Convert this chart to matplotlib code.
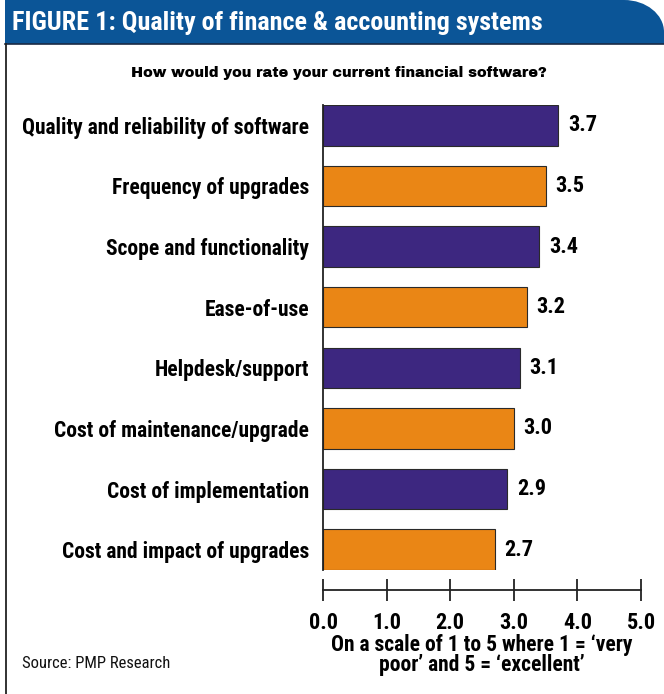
import matplotlib
matplotlib.use("Agg")
import matplotlib.pyplot as plt
from matplotlib.path import Path
from matplotlib.patches import PathPatch
from matplotlib.lines import Line2D
from matplotlib.transforms import Affine2D

# ===== データ =====
categories = [
    "Quality and reliability of software",
    "Frequency of upgrades",
    "Scope and functionality",
    "Ease-of-use",
    "Helpdesk/support",
    "Cost of maintenance/upgrade",
    "Cost of implementation",
    "Cost and impact of upgrades",
]
scores = [3.7, 3.5, 3.4, 3.2, 3.1, 3.0, 2.9, 2.7]
x_ticks = [0.0, 1.0, 2.0, 3.0, 4.0, 5.0]

PURPLE = "#3d2780"
ORANGE = "#ea8615"
BLUE = "#0b5597"
NARROW = ["Roboto Condensed", "DejaVu Sans"]
HEAVY = ["Archivo Black", "DejaVu Sans"]

W, H = 664, 694
fig = plt.figure(figsize=(W / 100, H / 100), dpi=100)
px = Affine2D().scale(1 / W, 1 / H) + fig.transFigure


def fy(y):
    # 上からのピクセル位置 → 図の下からのピクセル位置
    return H - y


# ===== タイトル帯（右上だけ角丸）=====
rx, ry = 40, 32
k = 0.5523
verts = [
    (5, fy(44)), (5, fy(0)), (W - rx, fy(0)),
    (W - rx + k * rx, fy(0)), (W, fy(ry) + k * ry), (W, fy(ry)),
    (W, fy(44)), (5, fy(44)),
]
codes = [Path.MOVETO, Path.LINETO, Path.LINETO,
         Path.CURVE4, Path.CURVE4, Path.CURVE4,
         Path.LINETO, Path.CLOSEPOLY]
fig.patches.append(PathPatch(Path(verts, codes), facecolor=BLUE,
                             edgecolor="none", transform=px))
fig.lines.append(Line2D([5, W], [fy(44), fy(44)], color="#1a2a45",
                        lw=1.2, transform=px))
fig.lines.append(Line2D([6, 6], [fy(44), 0], color="#222222",
                        lw=1.3, transform=px))

fig.text(12 / W, fy(23) / H, "FIGURE 1: Quality of finance & accounting systems",
         color="white", fontsize=18.8, fontweight="bold", family=NARROW,
         va="center", ha="left")
fig.text(339 / W, fy(73) / H, "How would you rate your current financial software?",
         color="black", fontsize=10.4, family=HEAVY,
         va="center", ha="center")
fig.text(22 / W, fy(663) / H, "Source: PMP Research", color="#111111",
         fontsize=12, family=NARROW, va="center", ha="left")

# ===== 棒グラフ =====
ax_l, ax_r = 323 / W, 641 / W
ax_top, ax_bot = fy(105) / H, fy(570) / H
ax = fig.add_axes([ax_l, ax_bot, ax_r - ax_l, ax_top - ax_bot])
bar_h = 0.67
ypos = list(range(len(categories)))
colors = [PURPLE if i % 2 == 0 else ORANGE for i in ypos]
ax.barh(ypos, scores, height=bar_h, color=colors, edgecolor="#2a2a2a", linewidth=0.8)
ax.set_xlim(0, 5)
ax.set_ylim(len(categories) - 1 + bar_h / 2, -bar_h / 2)
for s in ("top", "right", "bottom"):
    ax.spines[s].set_visible(False)
ax.spines["left"].set_color("#222222")
ax.spines["left"].set_linewidth(1.3)
ax.set_xticks([])
ax.set_yticks(ypos)
ax.set_yticklabels(categories, fontsize=15.5, fontweight="bold", family=NARROW)
ax.tick_params(axis="y", length=0, pad=10)
for y, v in zip(ypos, scores):
    ax.text(v + 0.15, y, f"{v:.1f}", va="center", ha="left",
            fontsize=16, fontweight="bold", family=NARROW)

# ===== 目盛り軸 =====
axx = fig.add_axes([ax_l, fy(590) / H, ax_r - ax_l, 0.0001])
axx.set_xlim(0, 5)
axx.set_yticks([])
axx.patch.set_visible(False)
for s in ("top", "right", "left"):
    axx.spines[s].set_visible(False)
axx.spines["bottom"].set_color("#222222")
axx.spines["bottom"].set_linewidth(1.3)
axx.set_xticks(x_ticks)
axx.set_xticklabels([f"{t:.1f}" for t in x_ticks], fontsize=16,
                    fontweight="bold", family=NARROW)
axx.tick_params(axis="x", direction="inout", length=16, width=1.3,
                color="#222222", pad=7.5)
axx.set_xlabel("On a scale of 1 to 5 where 1 = \u2018very\npoor\u2019 and 5 = \u2018excellent\u2019",
               fontsize=15.5, fontweight="bold", family=NARROW, labelpad=0,
               linespacing=0.92)

fig.savefig("out.png", dpi=100)
